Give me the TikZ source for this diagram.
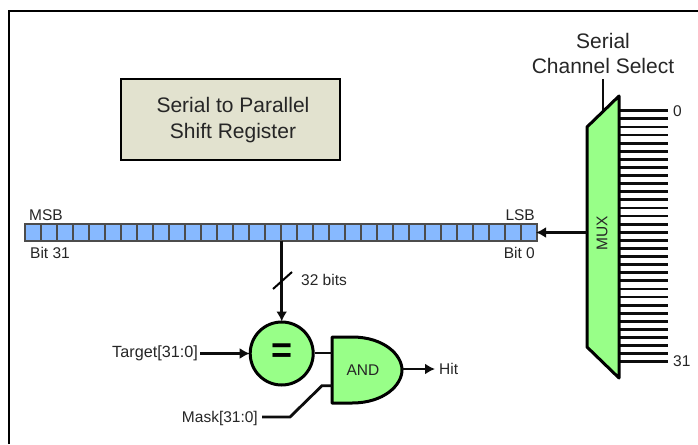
\documentclass[tikz,border=0pt]{standalone}
\usepackage{fontspec}
\setmainfont{Liberation Sans}
\usetikzlibrary{arrows.meta, positioning}
\definecolor{muxgreen}{RGB}{152,255,136}
\definecolor{cellblue}{RGB}{135,185,255}
\definecolor{boxtan}{RGB}{226,226,207}
\tikzset{
    wire/.style={line width=2.8pt, black!95},
    sig/.style={wire, -{Latex[length=10pt, width=11pt]}, shorten >=-1pt},
    cell/.style={draw=black!70, fill=cellblue, line width=1.2pt, minimum width=16pt, minimum height=17pt, inner sep=0pt, outer sep=0pt},
    lbl/.style={font=\fontsize{15.5}{18}\selectfont, text=black!85, inner sep=0pt},
    biglbl/.style={font=\fontsize{21}{25}\selectfont, text=black!85, align=center, inner sep=0pt},
    gate/.style={draw=black, fill=muxgreen, line width=3pt, line join=round}
}
\begin{document}
\begin{tikzpicture}[x=1pt, y=-1pt]
    \useasboundingbox (0,0) rectangle (698,444);
    \draw[line width=2pt] (9,444) -- (9,11) -- (698,11);
    % Title box
    \node[draw=black, fill=boxtan, line width=2pt, minimum width=219pt, minimum height=81pt, biglbl] (title) at (230.5,119.5) {};
    \node[biglbl] (titletext) at (233,120) {Serial to Parallel\\[1pt]Shift Register};
    % Shift register cells
    \foreach \n in {0,...,31} {
        \node[cell] (c\n) at ({33+16*\n},232.5) {};
    }
    \node[lbl, anchor=west] (msb) at (29,215) {MSB};
    \node[lbl, anchor=west] (bit31) at (30,253) {Bit 31};
    \node[lbl, anchor=east] (lsb) at (535,215) {LSB};
    \node[lbl, anchor=east] (bit0) at (535,253) {Bit 0};
    % Mux inputs
    \foreach \i in {0,...,31} {
        \coordinate (inl\i) at (619,{110.7+8.1*\i});
        \coordinate (inr\i) at (668,{110.7+8.1*\i});
        \draw[wire] (inl\i) -- (inr\i);
    }
    \node[lbl, anchor=west] (in0) at (673,111) {0};
    \node[lbl, anchor=west] (in31) at (673,361) {31};
    % Mux body
    \coordinate (muxtop) at (603,112);
    \coordinate (seltop) at (603,79);
    \draw[wire] (seltop) -- (muxtop);
    \draw[gate] (587,127) -- (619,96) -- (619,378) -- (587,347) -- cycle;
    \coordinate (muxout) at (587,232.5);
    \node[lbl, rotate=90] (mux) at (602,233) {MUX};
    \node[biglbl] (sel) at (603,53.5) {Serial\\Channel Select};
    \draw[sig] (muxout) -- (c31.east);
    % Compare and AND gate
    \node[gate, circle, minimum size=63pt, inner sep=0pt, font=\fontsize{36}{36}\bfseries\selectfont] (eq) at (281.7,353.5) {=};
    \draw[gate] (332,337) -- (352,337) .. controls (384,337) and (402,355) .. (402,370)
        .. controls (402,385) and (384,403) .. (352,403) -- (332,403) -- cycle;
    \coordinate (andin1) at (332,353);
    \coordinate (andin2) at (332,385.7);
    \coordinate (andout) at (402,369);
    \node[lbl] (andlbl) at (363,370) {AND};
    \draw[sig] (eq.north |- c16.south) -- (eq.north);
    \coordinate (slash1) at (273,289);
    \coordinate (slash2) at (292,272);
    \draw[line width=2pt] (slash1) -- (slash2);
    \node[lbl, anchor=west] (bits) at (301,280) {32 bits};
    \node[lbl, anchor=east, font=\fontsize{16.2}{18}\selectfont] (target) at (198,353) {Target[31:0]};
    \coordinate (tgtend) at (200,353.5);
    \draw[sig] (tgtend) -- (eq.west);
    \draw[wire] (eq.east |- andin1) -- (andin1);
    \node[lbl, anchor=east] (maskl) at (258,418) {Mask[31:0]};
    \coordinate (maskend) at (262,417);
    \draw[wire] (maskend) -- (290,417) -- (322,385.7) -- (andin2);
    \node[lbl, anchor=west] (hit) at (439,369) {Hit};
    \coordinate (hitend) at (434,369);
    \draw[sig] (andout) -- (hitend);
\end{tikzpicture}
\end{document}
